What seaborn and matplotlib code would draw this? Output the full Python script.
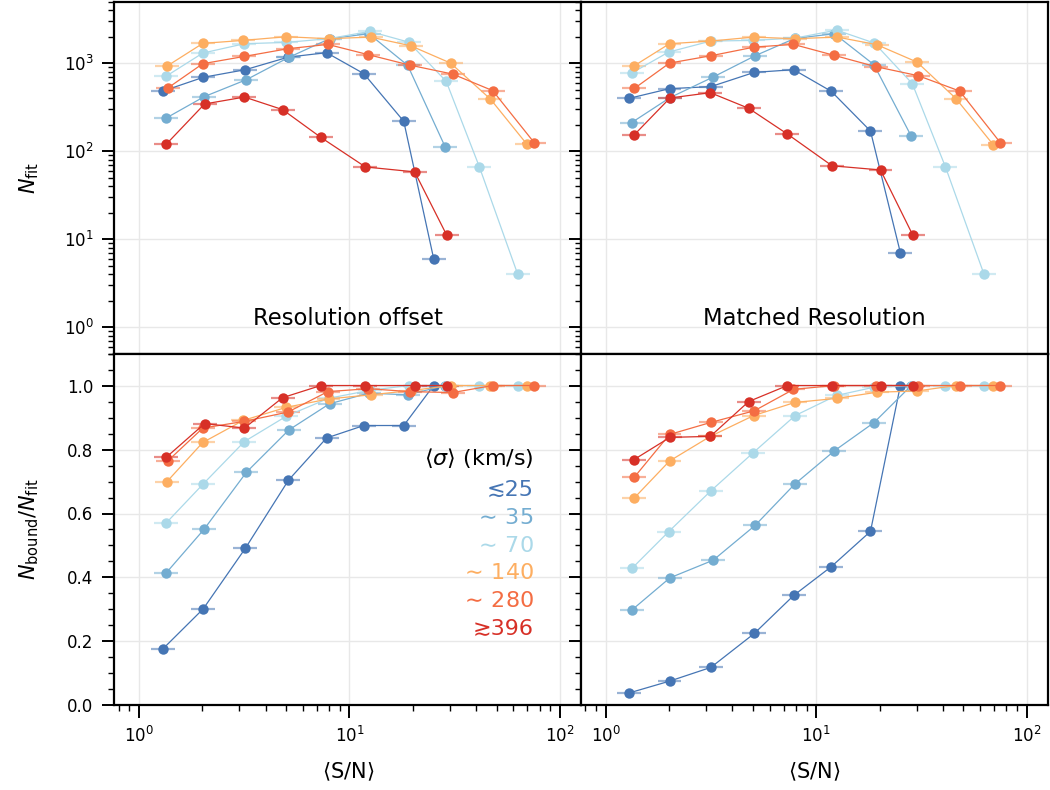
import numpy as np
import pandas as pd
import matplotlib
matplotlib.use("Agg")
import matplotlib.pyplot as plt
from matplotlib.ticker import LogLocator, MultipleLocator, NullFormatter
import seaborn as sns

# velocity-dispersion bins and their colours
sigma_labels = ["≲25", r"$\sim\,$35", r"$\sim\,$70", r"$\sim\,$140", r"$\sim\,$280", "≳396"]
sigma_colors = ["#4575b4", "#74add1", "#abd9e9", "#fdae61", "#f46d43", "#d73027"]

# mean S/N per bin, resolution-offset case
sn_offset = [
    [1.30, 2.02, 3.20, 5.13, 7.78, 11.7, 18.1, 25.1],
    [1.35, 2.04, 3.24, 5.15, 8.04, 12.35, 18.9, 28.5],
    [1.35, 2.01, 3.17, 5.01, 7.95, 12.5, 19.1, 28.8, 41.4, 62.9],
    [1.36, 2.01, 3.13, 5.02, 7.95, 12.6, 19.5, 30.2, 46.7, 69.7],
    [1.37, 2.01, 3.17, 5.10, 7.89, 12.3, 19.3, 30.9, 47.9, 75.5],
    [1.35, 2.05, 3.17, 4.81, 7.31, 11.9, 20.4, 29.0],
]
nfit_offset = [
    [481, 689, 841, 1170, 1313, 758, 218, 6],
    [238, 415, 648, 1161, 1892, 2157, 942, 111],
    [712, 1300, 1660, 1718, 1892, 2290, 1731, 620, 66, 4],
    [925, 1674, 1811, 1993, 1892, 1974, 1575, 1000, 390, 119],
    [520, 984, 1191, 1457, 1630, 1245, 949, 750, 486, 124],
    [120, 343, 411, 296, 143, 66, 58, 11],
]
frac_offset = [
    [0.177, 0.302, 0.491, 0.704, 0.836, 0.875, 0.875, 1.0],
    [0.415, 0.551, 0.729, 0.861, 0.943, 0.976, 0.971, 1.0],
    [0.571, 0.691, 0.825, 0.904, 0.960, 0.985, 1.0, 1.0, 1.0, 1.0],
    [0.700, 0.822, 0.891, 0.932, 0.958, 0.971, 0.984, 1.0, 1.0, 1.0],
    [0.764, 0.867, 0.888, 0.917, 0.981, 0.990, 0.981, 0.978, 1.0, 1.0],
    [0.776, 0.881, 0.867, 0.962, 1.0, 1.0, 1.0, 1.0],
]

# mean S/N per bin, matched-resolution case
sn_matched = [
    [1.29, 2.01, 3.16, 5.08, 7.82, 11.8, 18.1, 25.1],
    [1.33, 2.02, 3.24, 5.13, 7.91, 12.2, 18.8, 28.3],
    [1.34, 1.99, 3.15, 5.02, 7.94, 12.5, 18.9, 28.6, 41.1, 62.6],
    [1.36, 2.01, 3.14, 5.04, 7.91, 12.6, 19.4, 30.1, 46.1, 69.3],
    [1.37, 2.01, 3.17, 5.08, 7.80, 12.2, 19.2, 30.5, 48.0, 75.0],
    [1.36, 2.02, 3.14, 4.78, 7.30, 11.9, 20.2, 28.8],
]
nfit_matched = [
    [397, 512, 540, 784, 841, 477, 169, 7],
    [211, 405, 694, 1213, 1906, 2157, 959, 147],
    [778, 1333, 1778, 1811, 1923, 2370, 1687, 584, 66, 4],
    [925, 1660, 1778, 1974, 1892, 1974, 1618, 1027, 395, 118],
    [516, 1000, 1213, 1520, 1630, 1222, 910, 719, 481, 124],
    [151, 401, 461, 306, 156, 68, 61, 11],
]
frac_matched = [
    [0.039, 0.076, 0.119, 0.225, 0.344, 0.434, 0.544, 1.0],
    [0.298, 0.399, 0.454, 0.563, 0.692, 0.796, 0.884, 1.0],
    [0.430, 0.543, 0.670, 0.790, 0.906, 0.969, 0.995, 1.0, 1.0, 1.0],
    [0.647, 0.764, 0.841, 0.906, 0.947, 0.960, 0.979, 0.983, 1.0, 1.0],
    [0.714, 0.847, 0.885, 0.921, 0.988, 1.0, 1.0, 1.0, 1.0, 1.0],
    [0.768, 0.838, 0.841, 0.950, 1.0, 1.0, 1.0, 1.0],
]

# half-width of the S/N bins (multiplicative)
sn_spread = 1.14

panel_titles = ["Resolution offset", "Matched Resolution"]

sns.set_style("ticks")
plt.rcParams["font.family"] = ["DejaVu Sans"]
plt.rcParams["mathtext.fontset"] = "dejavusans"
plt.rcParams["text.color"] = "black"
plt.rcParams["axes.labelcolor"] = "black"
plt.rcParams["xtick.color"] = "black"
plt.rcParams["ytick.color"] = "black"

fig, axes = plt.subplots(2, 2, figsize=(10.5, 7.9), dpi=100, sharex=True)
fig.subplots_adjust(left=0.109, right=0.998, top=0.998, bottom=0.107,
                    hspace=0, wspace=0)

cases = [(sn_offset, nfit_offset, frac_offset), (sn_matched, nfit_matched, frac_matched)]


def draw_series(ax, x, y, color):
    x = np.asarray(x, float)
    y = np.asarray(y, float)
    xerr = np.vstack([x - x / sn_spread, x * sn_spread - x])
    ax.errorbar(x, y, xerr=xerr, fmt="none", ecolor=color, elinewidth=1.6,
                alpha=0.55, capsize=0, zorder=2)
    df = pd.DataFrame({"sn": x, "val": y})
    sns.lineplot(data=df, x="sn", y="val", ax=ax, color=color, marker="o",
                 markersize=7.5, markeredgewidth=0, linewidth=0.9,
                 estimator=None, sort=False, zorder=3)


for col, (sn, nfit, frac) in enumerate(cases):
    ax_top = axes[0, col]
    ax_bot = axes[1, col]
    for k in range(len(sigma_labels)):
        draw_series(ax_top, sn[k], nfit[k], sigma_colors[k])
        draw_series(ax_bot, sn[k], frac[k], sigma_colors[k])

    ax_top.set_xscale("log")
    ax_top.set_yscale("log")
    ax_top.set_ylim(0.5, 5000)
    ax_bot.set_ylim(0, 1.1)
    ax_bot.set_xlim(0.765, 126)

    ax_top.yaxis.set_major_locator(LogLocator(base=10, numticks=10))
    ax_top.yaxis.set_minor_locator(LogLocator(base=10, subs=np.arange(2, 10), numticks=20))
    ax_top.yaxis.set_minor_formatter(NullFormatter())
    ax_bot.yaxis.set_major_locator(MultipleLocator(0.2))
    ax_bot.yaxis.set_minor_locator(MultipleLocator(0.05))
    ax_bot.xaxis.set_major_locator(LogLocator(base=10, numticks=10))
    ax_bot.xaxis.set_minor_locator(LogLocator(base=10, subs=np.arange(2, 10), numticks=20))
    ax_bot.xaxis.set_minor_formatter(NullFormatter())

    for ax in (ax_top, ax_bot):
        ax.grid(True, which="major", color="#e8e8e8", linewidth=1.0, zorder=0)
        ax.set_axisbelow(True)
        for s in ax.spines.values():
            s.set_linewidth(1.6)
            s.set_color("black")
        ax.tick_params(which="major", length=9, width=1.4, labelsize=12,
                       colors="black", pad=6, right=False, top=False)
        ax.tick_params(which="minor", length=4.5, width=1.0, right=False, top=False)
        ax.set_xlabel("")
        ax.set_ylabel("")

    ax_top.tick_params(axis="x", which="both", bottom=False, labelbottom=False)
    ax_bot.set_xlabel(r"$\langle$S/N$\rangle$", fontsize=15, labelpad=10)
    ax_top.text(0.5, 0.10, panel_titles[col], transform=ax_top.transAxes,
                ha="center", va="center", fontsize=16.3)

    if col == 1:
        ax_top.tick_params(axis="y", which="both", labelleft=False)
        ax_bot.tick_params(axis="y", which="both", labelleft=False)

axes[0, 0].set_ylabel(r"$N_{\rm fit}$", fontsize=15, labelpad=16)
axes[1, 0].set_ylabel(r"$N_{\rm bound}/N_{\rm fit}$", fontsize=15, labelpad=16)
fig.align_ylabels(axes[:, 0])

# colour-coded key for the dispersion bins
key_ax = axes[1, 0]
key_ax.text(0.898, 0.702, r"$\langle\sigma\rangle$ (km/s)", transform=key_ax.transAxes,
            ha="right", va="center", fontsize=16, color="black")
for k, (lab, c) in enumerate(zip(sigma_labels, sigma_colors)):
    key_ax.text(0.898, 0.612 - 0.0788 * k, lab, transform=key_ax.transAxes,
                ha="right", va="center", fontsize=16, color=c)

fig.savefig("out.png", dpi=100)
